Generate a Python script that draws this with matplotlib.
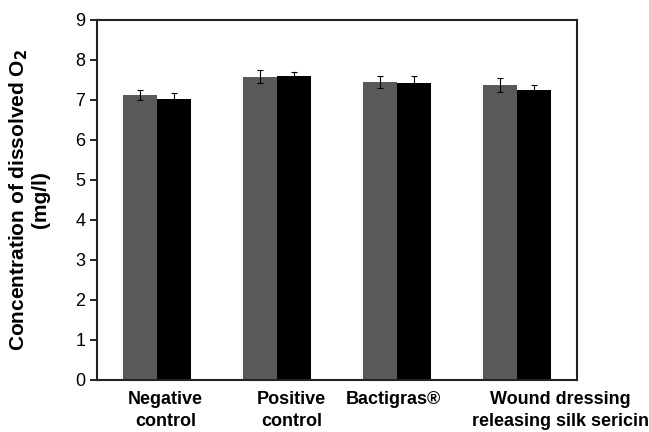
import matplotlib
matplotlib.use('Agg')
import matplotlib.pyplot as plt
import numpy as np

plt.rcParams['font.family'] = ['Liberation Sans', 'DejaVu Sans']

categories = ['Negative\ncontrol', 'Positive\ncontrol', 'Bactigras®',
              'Wound dressing\nreleasing silk sericin']
series_a = [7.13, 7.58, 7.46, 7.37]
series_a_err = [0.12, 0.16, 0.15, 0.18]
series_b = [7.02, 7.59, 7.43, 7.24]
series_b_err = [0.15, 0.12, 0.17, 0.14]

fig = plt.figure(figsize=(6.49, 4.32), dpi=100)
ax = fig.add_axes([97 / 649, 52 / 432, 480 / 649, 360 / 432])

x = np.arange(len(categories))
width = 0.28
err_kw = dict(ecolor='black', elinewidth=0.8, capsize=2, capthick=0.8)
ax.bar(x - width / 2, series_a, width, yerr=series_a_err, color='#595959',
       error_kw=err_kw)
ax.bar(x + width / 2, series_b, width, yerr=series_b_err, color='black',
       error_kw=err_kw)

ax.set_xlim(-0.5, 3.5)
ax.set_ylim(0, 9)
ax.set_yticks(range(10))
# category labels sit a little off the group centres in the original
label_shift = np.array([0.07, 0.12, -0.03, 0.36])
ax.set_xticks(x + label_shift)
ax.set_xticklabels(categories, fontweight='bold', fontsize=13, linespacing=1.35)
ax.tick_params(axis='x', length=0, pad=8)
ax.tick_params(axis='y', labelsize=13, length=5, width=1.2)
for s in ax.spines.values():
    s.set_linewidth(1.5)
    s.set_color('#222222')

ax.set_ylabel('Concentration of dissolved O$_\\mathbf{2}$\n(mg/l)',
              fontweight='bold', fontsize=15, labelpad=18, linespacing=1.1)

fig.savefig('out.png', dpi=100)
